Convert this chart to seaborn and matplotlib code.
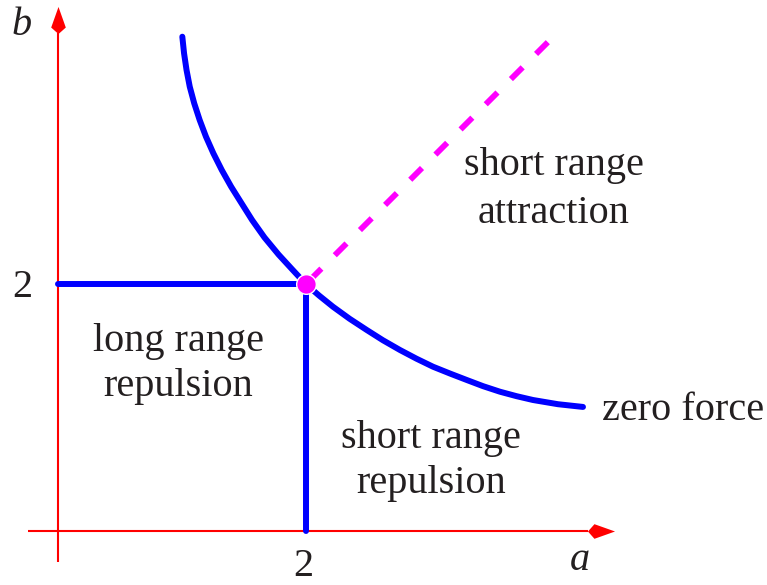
import numpy as np
import pandas as pd
import matplotlib
matplotlib.use("Agg")
import matplotlib.pyplot as plt
import seaborn as sns
from matplotlib.path import Path

# ---- data (a, b) ----
curve_a = [1.001, 1.015, 1.035, 1.061, 1.097, 1.141, 1.192, 1.252, 1.320,
           1.396, 1.480, 1.565, 1.665, 1.779, 1.892, 2.000,
           2.106, 2.219, 2.353, 2.492, 2.623, 2.761, 2.894, 3.028, 3.165,
           3.300, 3.432, 3.569, 3.703, 3.836, 4.038, 4.240]
curve_b = [4.000, 3.866, 3.731, 3.596, 3.462, 3.327, 3.192, 3.057, 2.922,
           2.787, 2.653, 2.518, 2.377, 2.239, 2.116, 2.000,
           1.908, 1.817, 1.720, 1.629, 1.546, 1.467, 1.397, 1.332, 1.277,
           1.225, 1.175, 1.130, 1.094, 1.063, 1.029, 1.007]
crit_a = [2.0]
crit_b = [2.0]
diag_a = [2.0, 4.01]
diag_b = [2.0, 4.01]
horiz_a = [0.0, 2.0]
horiz_b = [2.0, 2.0]
vert_a = [2.0, 2.0]
vert_b = [0.0, 2.0]
tick_label = "2"
region_text = [["short range", "attraction"],
               ["long range", "repulsion"],
               ["short range", "repulsion"]]
curve_label = "zero force"

# ---- style ----
sns.set_theme(style="white")
plt.rcParams["font.family"] = ["Liberation Serif", "DejaVu Serif"]
TXT = "#231f20"
BLUE = "#0000ff"
MAG = "#ff00ff"
RED = "#ff0000"
FS = 29

fig = plt.figure(figsize=(7.67, 5.85), dpi=100)
ax = fig.add_axes([0, 0, 1, 1])
ax.set_xlim(-0.4729, 5.7276)
ax.set_ylim(-0.4325, 4.2967)
ax.axis("off")

# axes (red) with kite-shaped arrow heads
ax.plot([-0.247, 4.28], [0, 0], color=RED, lw=1.5, solid_capstyle="butt", zorder=1)
ax.plot([0, 0], [-0.244, 4.03], color=RED, lw=1.5, solid_capstyle="butt", zorder=1)
kite = [(1, 0), (-0.52, 0.54), (-1, 0), (-0.52, -0.54), (1, 0)]
codes = [Path.MOVETO, Path.LINETO, Path.LINETO, Path.LINETO, Path.CLOSEPOLY]
kite_r = Path(kite, codes)
kite_u = Path([(-y, x) for x, y in kite], codes)
ax.plot([4.382], [0], marker=kite_r, markersize=19.5, color=RED, mec=RED, mew=0, zorder=2)
ax.plot([0], [4.137], marker=kite_u, markersize=19.5, color=RED, mec=RED, mew=0, zorder=2)

# blue boundary lines
sns.lineplot(x=horiz_a, y=horiz_b, ax=ax, color=BLUE, lw=4.3, sort=False,
             estimator=None, zorder=3)
sns.lineplot(x=vert_a, y=vert_b, ax=ax, color=BLUE, lw=4.3, sort=False,
             estimator=None, zorder=3)
curve_df = pd.DataFrame({"a": curve_a, "b": curve_b})
sns.lineplot(data=curve_df, x="a", y="b", ax=ax, color=BLUE, lw=4.3, sort=False,
             estimator=None, zorder=3)
ax.lines[-1].set_solid_capstyle("round")
ax.lines[-1].set_solid_joinstyle("round")

# magenta dashed diagonal
sns.lineplot(x=diag_a, y=diag_b, ax=ax, color=MAG, lw=4.2, sort=False,
             estimator=None, zorder=3)
dl = ax.lines[-1]
dl.set_linestyle((5.2, (2.85, 3.25)))
dl.set_dash_capstyle("butt")

# critical point
sns.scatterplot(x=crit_a, y=crit_b, ax=ax, color=MAG, s=200, edgecolor="white",
                linewidth=1, zorder=5)

# axis labels and ticks
ax.text(-0.295, 4.014, "b", fontsize=FS, style="italic", color=TXT,
        ha="center", va="baseline")
ax.text(4.216, -0.311, "a", fontsize=FS, style="italic", color=TXT,
        ha="center", va="baseline")
ax.text(-0.295, 1.892, tick_label, fontsize=FS, color=TXT, ha="center", va="baseline")
ax.text(1.977, -0.360, tick_label, fontsize=FS, color=TXT, ha="center", va="baseline")

# region labels (first-line baselines)
region_pos = [(4.002, 2.882, 0.388), (0.970, 1.459, 0.364), (3.011, 0.675, 0.364)]
for lines, (x, y, dy) in zip(region_text, region_pos):
    for i, s in enumerate(lines):
        ax.text(x, y - i * dy, s, fontsize=FS, color=TXT, ha="center", va="baseline")

ax.text(4.391, 0.901, curve_label, fontsize=FS, color=TXT, ha="left", va="baseline")

fig.savefig("out.png", dpi=100)
